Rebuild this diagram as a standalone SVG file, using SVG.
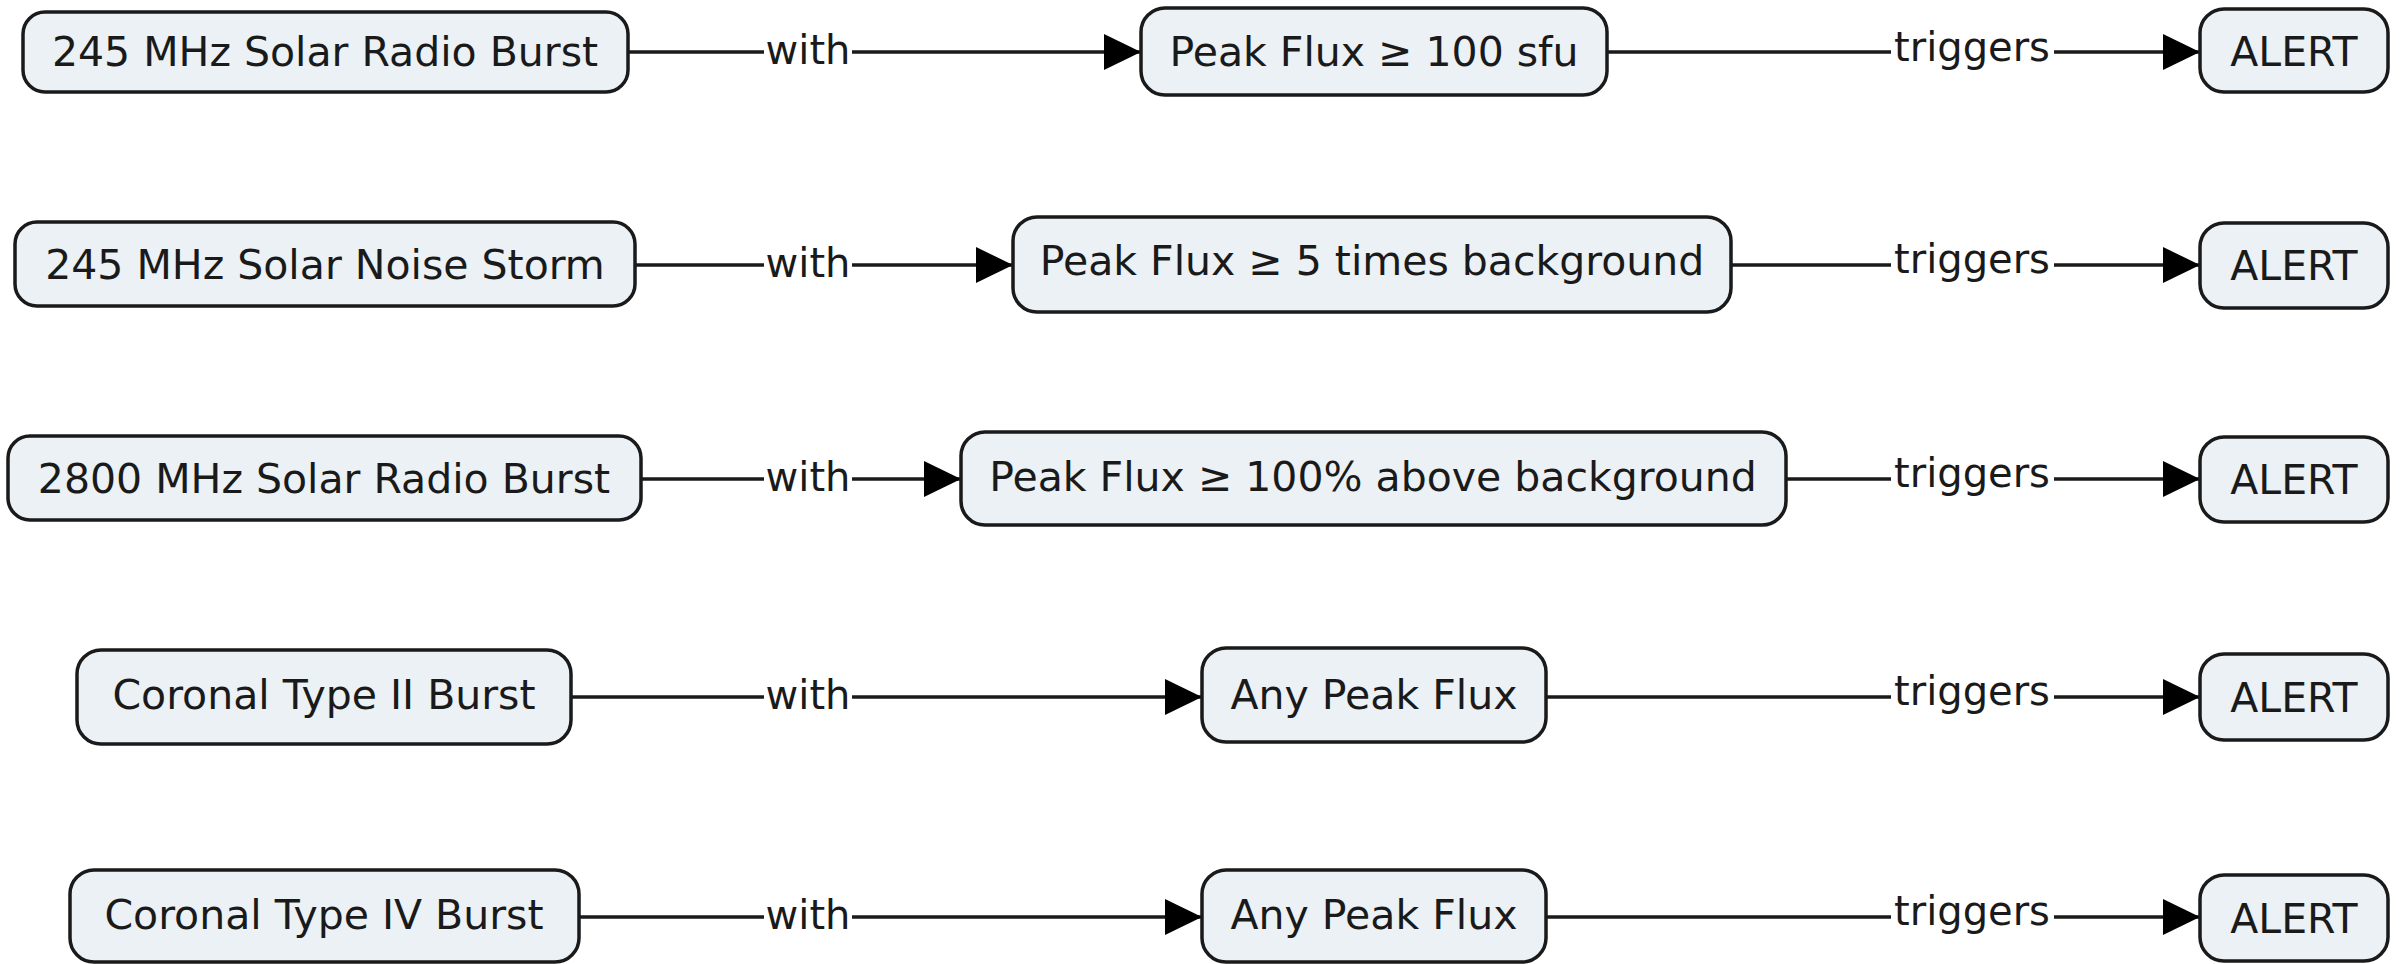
<svg xmlns="http://www.w3.org/2000/svg" width="2400" height="964" viewBox="0 0 2400 964">
<style>
.node rect{fill:#ebf1f5;stroke:#1a1a1a;stroke-width:3.5}
.node text{font-family:"DejaVu Sans","Verdana",sans-serif;font-size:41px;fill:#1a1a1a;text-anchor:middle}
.lbl{font-family:"DejaVu Sans","Verdana",sans-serif;font-size:40px;fill:#1a1a1a;text-anchor:middle}
.ln{stroke:#1a1a1a;stroke-width:3.5;fill:none}
</style>
<defs>
<marker id="ah" markerUnits="userSpaceOnUse" markerWidth="40" markerHeight="40" refX="37" refY="18" orient="auto">
<path d="M0,0 L37,18 L0,36 Z" fill="#000"/>
</marker>
</defs>
<rect width="2400" height="964" fill="#fff"/>

<g id="connectors">
<!-- row 1 -->
<path class="ln" d="M628,52 H764"/>
<path class="ln" d="M852,52 H1141" marker-end="url(#ah)"/>
<text class="lbl" x="808" y="64">with</text>
<path class="ln" d="M1607,52 H1891"/>
<path class="ln" d="M2054,52 H2200" marker-end="url(#ah)"/>
<text class="lbl" x="1972" y="61">triggers</text>
<!-- row 2 -->
<path class="ln" d="M635,265 H764"/>
<path class="ln" d="M852,265 H1013" marker-end="url(#ah)"/>
<text class="lbl" x="808" y="277">with</text>
<path class="ln" d="M1731,265 H1891"/>
<path class="ln" d="M2054,265 H2200" marker-end="url(#ah)"/>
<text class="lbl" x="1972" y="273">triggers</text>
<!-- row 3 -->
<path class="ln" d="M641,479 H764"/>
<path class="ln" d="M852,479 H961" marker-end="url(#ah)"/>
<text class="lbl" x="808" y="491">with</text>
<path class="ln" d="M1786,479 H1891"/>
<path class="ln" d="M2054,479 H2200" marker-end="url(#ah)"/>
<text class="lbl" x="1972" y="487">triggers</text>
<!-- row 4 -->
<path class="ln" d="M571,697 H764"/>
<path class="ln" d="M852,697 H1202" marker-end="url(#ah)"/>
<text class="lbl" x="808" y="709">with</text>
<path class="ln" d="M1546,697 H1891"/>
<path class="ln" d="M2054,697 H2200" marker-end="url(#ah)"/>
<text class="lbl" x="1972" y="705">triggers</text>
<!-- row 5 -->
<path class="ln" d="M579,917 H764"/>
<path class="ln" d="M852,917 H1202" marker-end="url(#ah)"/>
<text class="lbl" x="808" y="929">with</text>
<path class="ln" d="M1546,917 H1891"/>
<path class="ln" d="M2054,917 H2200" marker-end="url(#ah)"/>
<text class="lbl" x="1972" y="925">triggers</text>
</g>

<g id="n-245-radio-burst" class="node"><rect x="23" y="12" width="605" height="80" rx="22"/><text x="325" y="66">245 MHz Solar Radio Burst</text></g>
<g id="n-peak-100sfu" class="node"><rect x="1141" y="8" width="466" height="87" rx="24"/><text x="1374" y="66">Peak Flux ≥ 100 sfu</text></g>
<g id="n-alert-1" class="node"><rect x="2200" y="9" width="188" height="83" rx="24"/><text x="2294" y="66">ALERT</text></g>

<g id="n-245-noise-storm" class="node"><rect x="15" y="222" width="620" height="84" rx="22"/><text x="325" y="279">245 MHz Solar Noise Storm</text></g>
<g id="n-peak-5x" class="node"><rect x="1013" y="217" width="718" height="95" rx="24"/><text x="1372" y="275">Peak Flux ≥ 5 times background</text></g>
<g id="n-alert-2" class="node"><rect x="2200" y="223" width="188" height="85" rx="24"/><text x="2294" y="280">ALERT</text></g>

<g id="n-2800-radio-burst" class="node"><rect x="8" y="436" width="633" height="84" rx="22"/><text x="324" y="493">2800 MHz Solar Radio Burst</text></g>
<g id="n-peak-100pct" class="node"><rect x="961" y="432" width="825" height="93" rx="24"/><text x="1373" y="491">Peak Flux ≥ 100% above background</text></g>
<g id="n-alert-3" class="node"><rect x="2200" y="437" width="188" height="85" rx="24"/><text x="2294" y="494">ALERT</text></g>

<g id="n-type-ii" class="node"><rect x="77" y="650" width="494" height="94" rx="24"/><text x="324" y="709">Coronal Type II Burst</text></g>
<g id="n-any-peak-1" class="node"><rect x="1202" y="648" width="344" height="94" rx="24"/><text x="1374" y="709">Any Peak Flux</text></g>
<g id="n-alert-4" class="node"><rect x="2200" y="654" width="188" height="86" rx="24"/><text x="2294" y="712">ALERT</text></g>

<g id="n-type-iv" class="node"><rect x="70" y="870" width="509" height="92" rx="24"/><text x="324" y="929">Coronal Type IV Burst</text></g>
<g id="n-any-peak-2" class="node"><rect x="1202" y="870" width="344" height="92" rx="24"/><text x="1374" y="929">Any Peak Flux</text></g>
<g id="n-alert-5" class="node"><rect x="2200" y="875" width="188" height="86" rx="24"/><text x="2294" y="933">ALERT</text></g>
</svg>
